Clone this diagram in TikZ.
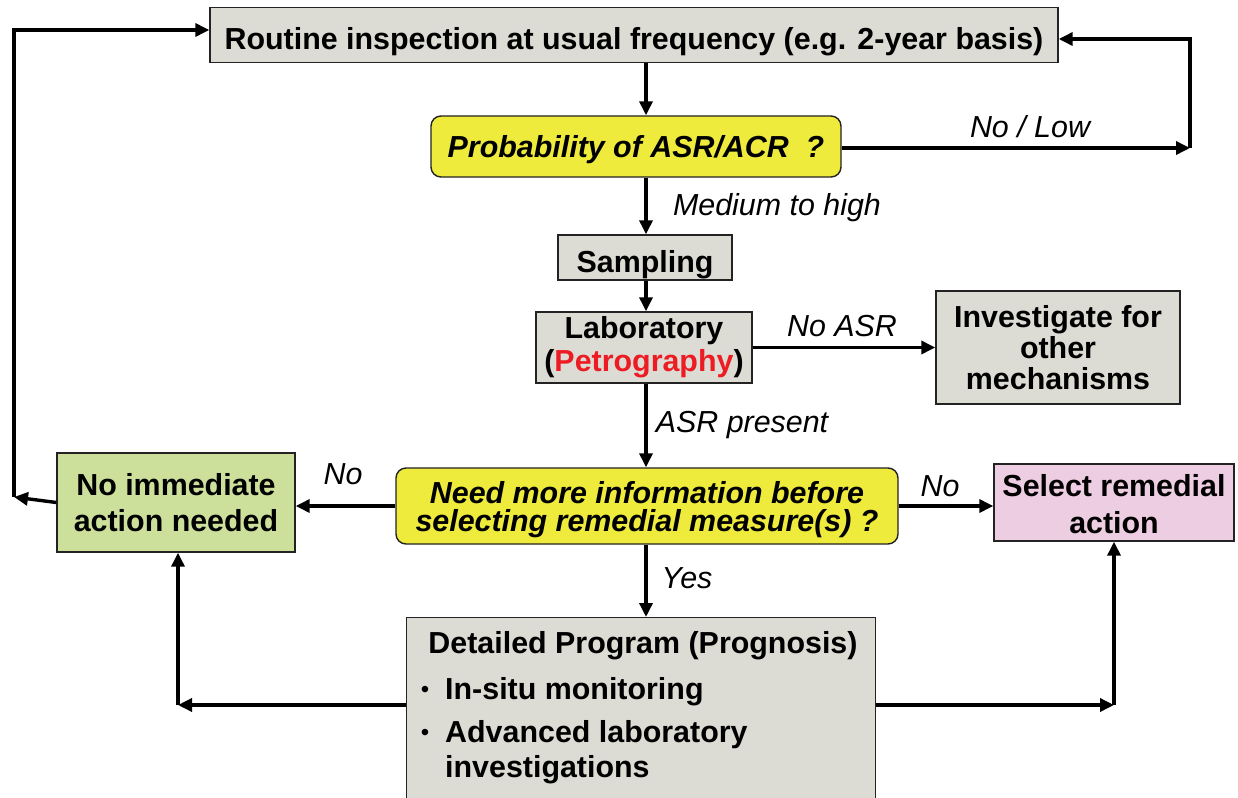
\documentclass[tikz,border=0pt]{standalone}
\usepackage{fontspec}
\setmainfont{Liberation Sans}
\usetikzlibrary{arrows.meta}
\definecolor{boxgray}{RGB}{220,220,212}
\definecolor{qyellow}{RGB}{239,235,60}
\definecolor{okgreen}{RGB}{205,224,155}
\definecolor{rempink}{RGB}{237,205,225}
\definecolor{petred}{RGB}{237,28,36}
\definecolor{edgecol}{RGB}{35,35,35}
\begin{document}
\begin{tikzpicture}[x=1pt,y=-1pt,
  box/.style={draw=edgecol, line width=1.4pt, inner sep=0pt, align=center,
    font=\fontsize{30.4}{36}\selectfont\bfseries},
  graybox/.style={box, fill=boxgray},
  qbox/.style={box, fill=qyellow, rounded corners=10pt,
    font=\fontsize{30.4}{28}\selectfont\bfseries\itshape},
  conn/.style={line width=3.4pt, -{Triangle[length=14pt,width=13pt]}},
  lbl/.style={font=\fontsize{30.4}{36}\selectfont\itshape, inner sep=0pt},
  btxt/.style={font=\fontsize{30.4}{36}\selectfont\bfseries, inner sep=0pt},
]
\fill[white] (0,0) rectangle (1238,797);
\useasboundingbox (0,0) rectangle (1238,797);

\coordinate (spine) at (646,0);

\node[graybox, minimum width=848pt, minimum height=55pt,
  text height=30pt, text depth=0pt] (routine) at (634,35)
  {Routine inspection at usual frequency (e.g. 2-year basis)};
\node[qbox, minimum width=410pt, minimum height=61pt,
  text height=21pt, text depth=0pt] (prob) at (636,146.5)
  {Probability of ASR/ACR\ \ ?};
\node[graybox, minimum width=174pt, minimum height=45pt,
  text height=29pt, text depth=0pt] (samp) at (645,257.5)
  {Sampling};
\node[graybox, minimum width=216pt, minimum height=71pt,
  font=\fontsize{30.4}{33}\selectfont\bfseries] (lab) at (644,347.5)
  {Laboratory\\(\textcolor{petred}{Petrography})};
\node[graybox, minimum width=244pt, minimum height=113pt,
  font=\fontsize{30.4}{31}\selectfont\bfseries] (inv) at (1058,347.5)
  {Investigate for\\other\\mechanisms};
\node[qbox, minimum width=502pt, minimum height=76pt] (need) at (647,506)
  {\rule{0pt}{30pt}Need more information before\\selecting remedial measure(s) ?};
\node[box, fill=okgreen, minimum width=238pt, minimum height=99pt] (ni) at (176,502.5)
  {No immediate\\action needed};
\node[box, fill=rempink, minimum width=240pt, minimum height=77pt,
  font=\fontsize{30.4}{37}\selectfont\bfseries] (sel) at (1114,502.5)
  {\rule{0pt}{26pt}Select remedial\\action};
\node[graybox, anchor=north west, minimum width=469pt, minimum height=200pt] (det) at (406,617) {};

\node[btxt, anchor=base] (dt1) at (643,653) {Detailed Program (Prognosis)};
\node[font=\fontsize{24}{28}\selectfont, anchor=base, inner sep=0pt] (bu1) at (425,697) {•};
\node[btxt, anchor=base west] (dt2) at (445,699) {In-situ monitoring};
\node[font=\fontsize{24}{28}\selectfont, anchor=base, inner sep=0pt] (bu2) at (425,740) {•};
\node[btxt, anchor=base west] (dt3) at (445,742) {Advanced laboratory};
\node[btxt, anchor=base west] (dt4) at (445,777) {investigations};

% connectors
\coordinate (cR) at (1190,148);
\coordinate (rtop) at (1190,39);
\coordinate (ll) at (14,497);
\coordinate (lt) at (14,30);
\coordinate (dl) at (178,705);
\coordinate (dr) at (1114,705);

\draw[conn] (routine.south -| spine) -- (prob.north -| spine);
\draw[conn] (prob.east |- cR) -- (cR);
\draw[conn] (cR) -- (rtop) -- (routine.east |- rtop);
\node[lbl] (nolow) at (1030,127) {No / Low};

\draw[conn] (prob.south -| spine) -- (samp.north -| spine);
\node[lbl] (med) at (777,208) {Medium to high};

\draw[conn] (samp.south -| spine) -- (lab.north -| spine);
\draw[conn] (lab.east) -- (inv.west);
\node[lbl] (noasr) at (842,326) {No ASR};

\draw[conn] (lab.south -| spine) -- (need.north -| spine);
\node[lbl] (asrp) at (742,425) {ASR present};

\draw[conn] (need.west) -- (need.west -| ni.east);
\node[lbl] (no1) at (343,474) {No};
\draw[conn] (need.east) -- (need.east -| sel.west);
\node[lbl] (no2) at (940,486) {No};

\draw[conn] (need.south -| spine) -- (det.north -| spine);
\node[lbl] (yes) at (687,578) {Yes};

\draw[conn] (det.west |- dl) -- (dl);
\draw[conn] (dl) -- (ni.south -| dl);
\draw[conn] (det.east |- dr) -- (dr);
\draw[conn] (dr) -- (sel.south -| dr);

\draw[conn] (ni.west) -- (ll);
\draw[conn] (ll) -- (lt) -- (routine.west |- lt);
\end{tikzpicture}
\end{document}
